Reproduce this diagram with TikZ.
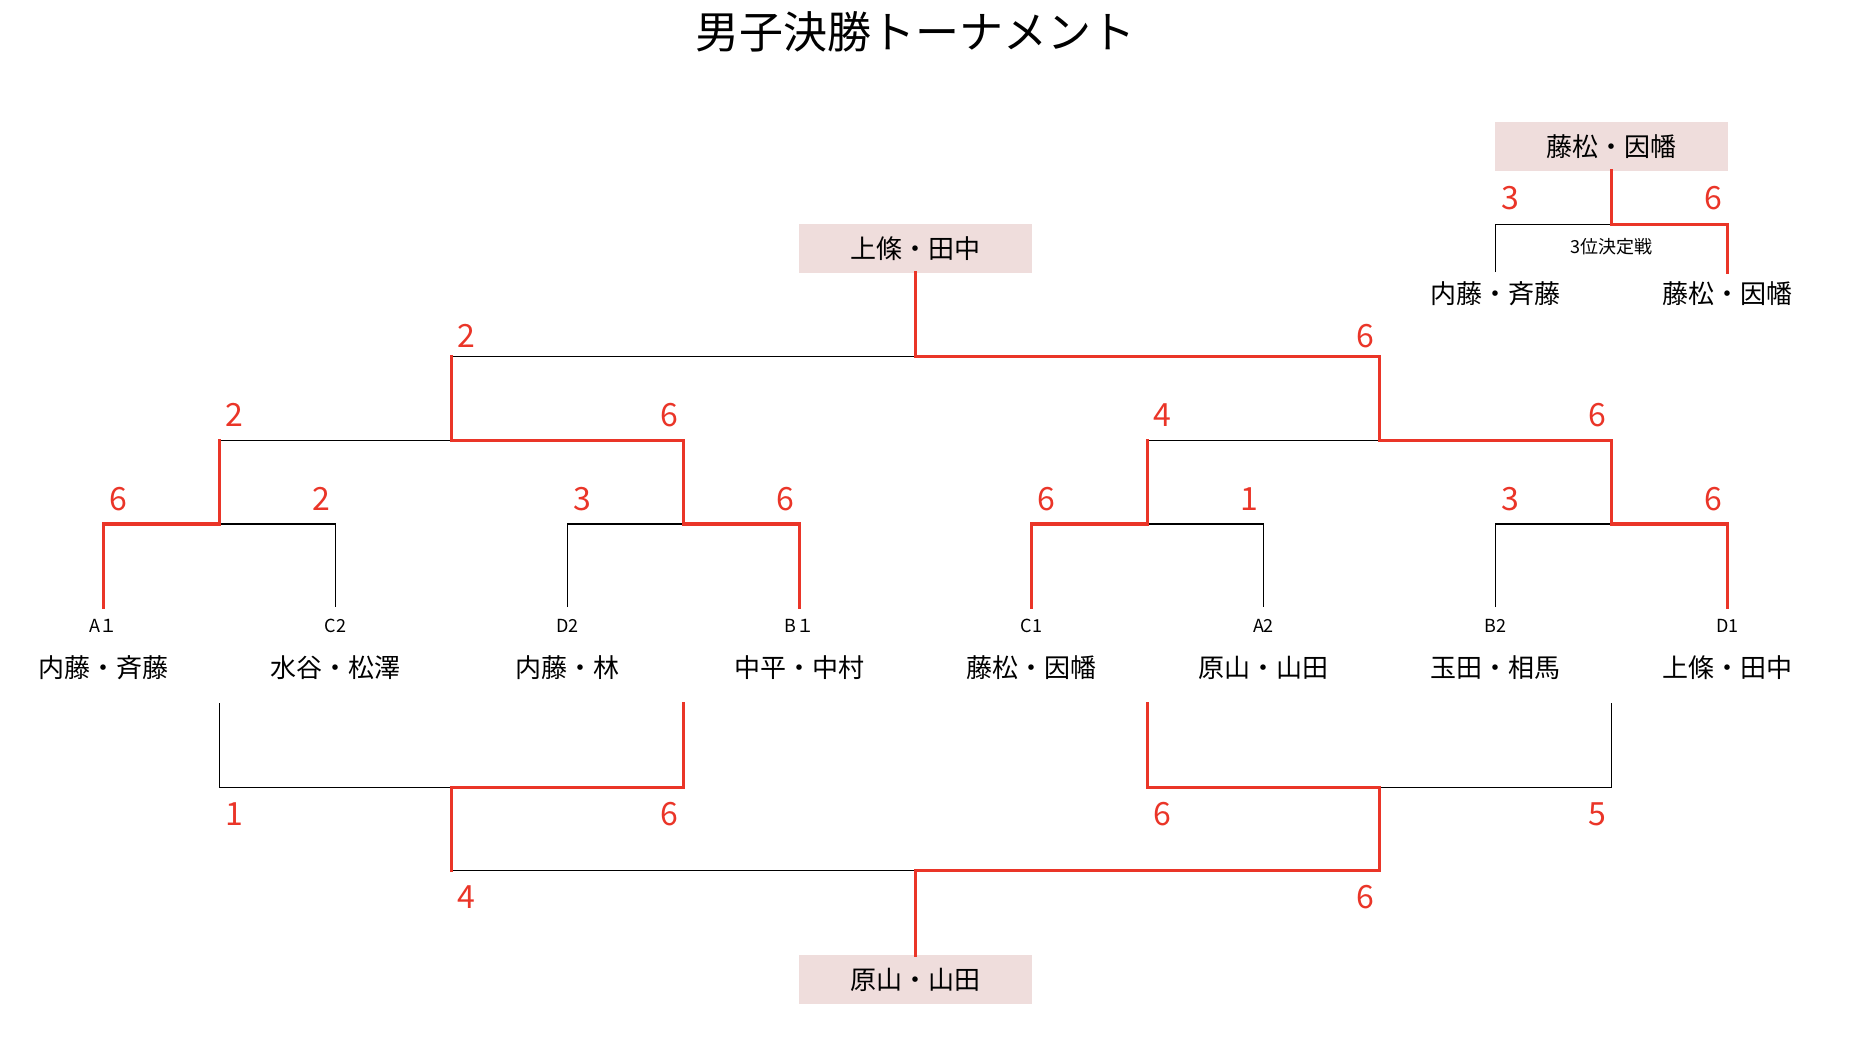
\documentclass[tikz,border=0pt]{standalone}
\usepackage{fontspec}
\setmainfont{Noto Sans CJK JP}
\definecolor{winred}{RGB}{234,53,40}
\definecolor{boxfill}{RGB}{239,221,220}
\begin{document}
\begin{tikzpicture}[x=1pt,y=-1pt,line join=miter,
  loseline/.style={draw=black,line width=1.2pt},
  winline/.style={draw=winred,line width=3.3pt,line cap=rect},
  score/.style={text=winred,font=\fontsize{32}{38}\selectfont,inner sep=0pt},
  codelabel/.style={font=\fontsize{18}{22}\selectfont,inner sep=0pt},
  pname/.style={font=\fontsize{26}{31}\selectfont,inner sep=0pt},
  resultbox/.style={fill=boxfill,minimum width=233pt,minimum height=48.5pt,inner sep=0pt,font=\fontsize{26}{31}\selectfont},
  titletext/.style={font=\fontsize{44}{50}\selectfont,inner sep=0pt}]
\useasboundingbox (0,0) rectangle (1862,1044);

% title
\node[titletext] (title) at (915.5,32) {男子決勝トーナメント};

% coordinates
\foreach \i in {0,...,7} {\coordinate (L\i) at (103.5+232*\i,607);}
\foreach \i in {0,...,3} {\coordinate (A\i) at (219.5+464*\i,524);}
\foreach \i in {0,1} {\coordinate (B\i) at (451.5+928*\i,440.7);}
\coordinate (C) at (915.5,356.4);
\foreach \i in {0,...,3} {\coordinate (T\i) at (219.5+464*\i,703.3);}
\foreach \i in {0,1} {\coordinate (M\i) at (451.5+928*\i,787.6);}
\foreach \i in {0,1} {\coordinate (Q\i) at (451.5+928*\i,870.8);}
\coordinate (S0) at (1495.5,272);
\coordinate (S1) at (1727.5,272);
\coordinate (S) at (1611.5,224.5);

% result boxes
\node[resultbox] (champ) at (915.5,248.4) {上條・田中};
\node[resultbox] (runner) at (915.5,979.5) {原山・山田};
\node[resultbox] (third) at (1611.5,146.5) {藤松・因幡};

% leaf labels
\foreach \i/\c/\n in {0/A１/内藤・斉藤,1/C2/水谷・松澤,2/D2/内藤・林,3/B１/中平・中村,4/C1/藤松・因幡,5/A2/原山・山田,6/B2/玉田・相馬,7/D1/上條・田中} {
  \node[codelabel] (code\i) at (103.5+232*\i,626) {\c};
  \node[pname] (name\i) at (103.5+232*\i,667.7) {\n};
}

% third place labels
\node[pname] (tname0) at (1495.5,293.4) {内藤・斉藤};
\node[pname] (tname1) at (1727.5,293.4) {藤松・因幡};
\node[codelabel] (tlabel) at (1611.5,247) {3位決定戦};

% black bracket lines (top)
\draw[loseline] (L0) |- (A0) -| (L1);
\draw[loseline] (L2) |- (A1) -| (L3);
\draw[loseline] (L4) |- (A2) -| (L5);
\draw[loseline] (L6) |- (A3) -| (L7);
\draw[loseline] (A0) |- (B0) -| (A1);
\draw[loseline] (A2) |- (B1) -| (A3);
\draw[loseline] (B0) |- (C) -| (B1);
\draw[loseline] (C) -- (champ.south);
% black bracket lines (bottom)
\draw[loseline] (T0) |- (M0) -| (T1);
\draw[loseline] (T2) |- (M1) -| (T3);
\draw[loseline] (M0) -- (Q0) -- (Q1) -- (M1);
\draw[loseline] (Q0) -| (runner.north);
% black third place
\draw[loseline] (S0) |- (S) -| (S1);

% red winner paths (top)
\draw[winline] (L0) |- (A0) -- (A0 |- B0);
\draw[winline] (L3) |- (A1) |- (B0) -- (B0 |- C);
\draw[winline] (L4) |- (A2) -- (A2 |- B1);
\draw[winline] (L7) |- (A3) |- (B1) |- (C) -- (champ.south);
% red winner paths (bottom)
\draw[winline] (T1) |- (M0) -- (Q0);
\draw[winline] (T2) |- (M1) -- (Q1) -| (runner.north);
% red third place
\draw[winline] (S1) |- (S) -- (third.south);

% scores top, round 1
\foreach \i/\s in {0/6,1/2,2/3,3/6,4/6,5/1,6/3,7/6} {
  \pgfmathsetmacro{\dx}{ifthenelse(mod(\i,2)==0,14.5,-14.5)}
  \node[score] (sa\i) at (103.5+232*\i+\dx,499) {\s};
}
% round 2
\foreach \i/\s in {0/2,1/6,2/4,3/6} {
  \pgfmathsetmacro{\dx}{ifthenelse(mod(\i,2)==0,14.5,-14.5)}
  \node[score] (sb\i) at (219.5+464*\i+\dx,414.6) {\s};
}
% round 3
\node[score] (sc0) at (451.5+14.5,336.2) {2};
\node[score] (sc1) at (1379.5-14.5,336.2) {6};
% third place
\node[score] (st0) at (1495.5+14.5,198.4) {3};
\node[score] (st1) at (1727.5-14.5,198.4) {6};
% bottom round 1
\foreach \i/\s in {0/1,1/6,2/6,3/5} {
  \pgfmathsetmacro{\dx}{ifthenelse(mod(\i,2)==0,14.5,-14.5)}
  \node[score] (sd\i) at (219.5+464*\i+\dx,813.8) {\s};
}
% bottom round 2
\node[score] (se0) at (451.5+14.5,897) {4};
\node[score] (se1) at (1379.5-14.5,897) {6};
\end{tikzpicture}
\end{document}
